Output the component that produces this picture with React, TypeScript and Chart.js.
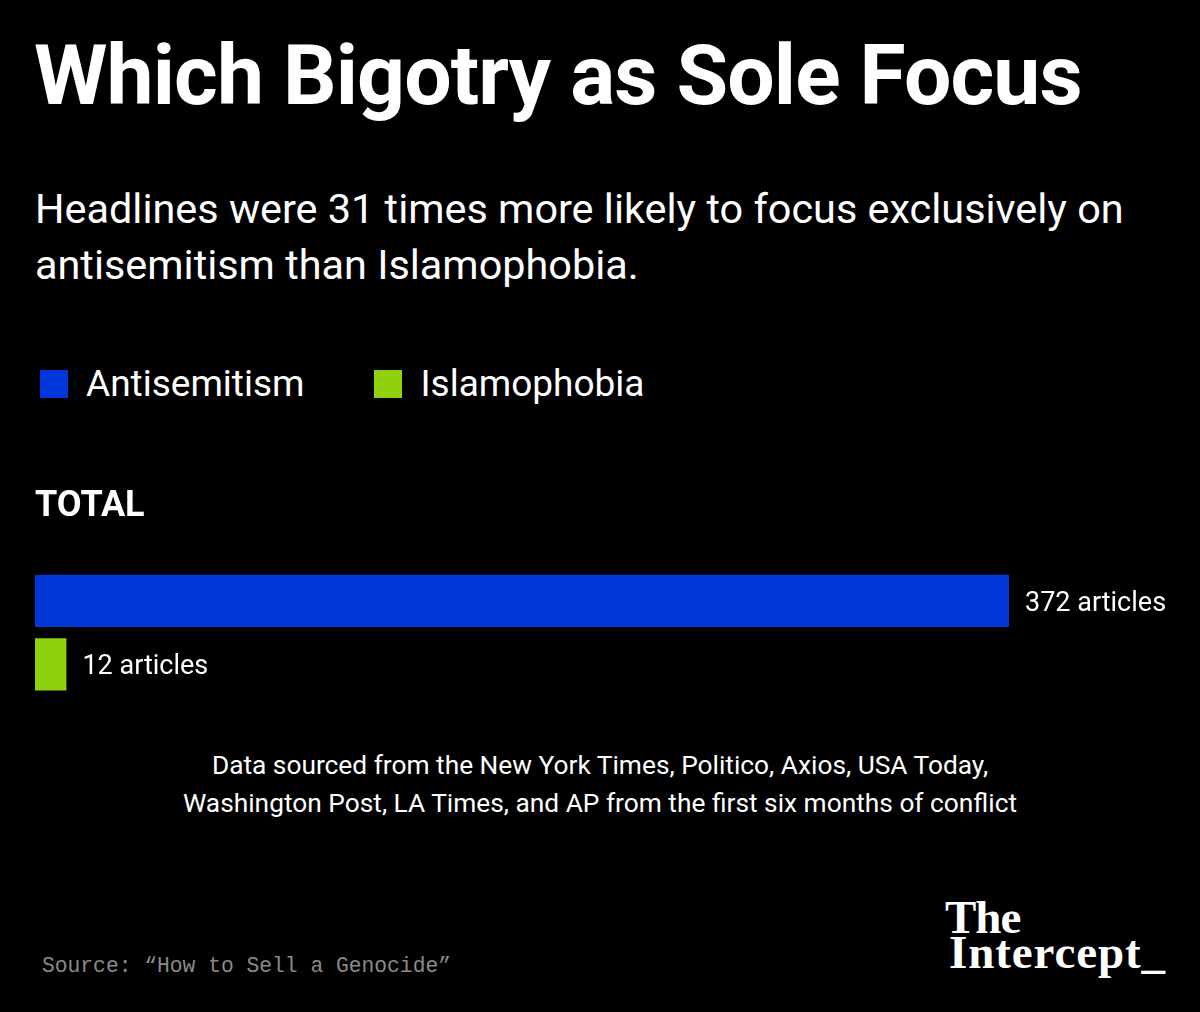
import React, { useEffect, useRef } from "react";
import { Chart, registerables } from "chart.js";

Chart.register(...registerables);

// ---- data ----
const categories = ["TOTAL"];
const seriesNames = ["Antisemitism", "Islamophobia"];
const antisemitismValues = [372];
const islamophobiaValues = [12];
const seriesColors = ["#0136D9", "#8ED10C"];
const valueSuffix = " articles";

const titleText = "Which Bigotry as Sole Focus";
const subtitleLines = [
  "Headlines were 31 times more likely to focus exclusively on",
  "antisemitism than Islamophobia.",
];
const noteLines = [
  "Data sourced from the New York Times, Politico, Axios, USA Today,",
  "Washington Post, LA Times, and AP from the first six months of conflict",
];
const sourceText = "Source: \u201cHow to Sell a Genocide\u201d";
const logoLines = ["The", "Intercept_"];

const SANS = "Roboto, 'Noto Sans', sans-serif";

const valueLabels = {
  id: "valueLabels",
  afterDatasetsDraw(chart: any) {
    const ctx = chart.ctx;
    ctx.save();
    ctx.font = `27px ${SANS}`;
    ctx.fillStyle = "#ffffff";
    ctx.textBaseline = "middle";
    ctx.textAlign = "left";
    chart.data.datasets.forEach((ds: any, i: number) => {
      chart.getDatasetMeta(i).data.forEach((el: any, j: number) => {
        ctx.fillText(`${ds.data[j]}${valueSuffix}`, el.x + 16, el.y + 3);
      });
    });
    ctx.restore();
  },
};

export default function App() {
  const canvasRef = useRef<HTMLCanvasElement | null>(null);

  useEffect(() => {
    document.body.style.margin = "0";
    document.body.style.background = "#000";
    const canvas = canvasRef.current;
    if (!canvas) return;
    const chart = new Chart(canvas, {
      type: "bar",
      data: {
        labels: categories,
        datasets: [
          {
            label: seriesNames[0],
            data: antisemitismValues,
            backgroundColor: seriesColors[0],
            borderWidth: 0,
            barPercentage: 0.825,
            categoryPercentage: 1,
          },
          {
            label: seriesNames[1],
            data: islamophobiaValues,
            backgroundColor: seriesColors[1],
            borderWidth: 0,
            barPercentage: 0.825,
            categoryPercentage: 1,
          },
        ],
      },
      options: {
        indexAxis: "y",
        responsive: false,
        animation: false,
        layout: { padding: { top: 0, left: 35, right: 191, bottom: 24 } },
        scales: {
          x: { display: false, min: 0, max: 372 },
          y: { display: false },
        },
        plugins: {
          legend: { display: false },
          tooltip: { enabled: false },
          title: {
            display: true,
            text: categories[0],
            align: "start",
            color: "#ffffff",
            font: { family: SANS, size: 36, weight: "bold" },
            padding: { top: 45, bottom: 41 },
          },
        },
      },
      plugins: [valueLabels],
    });
    return () => chart.destroy();
  }, []);

  const abs = (s: React.CSSProperties): React.CSSProperties => ({
    position: "absolute",
    margin: 0,
    whiteSpace: "nowrap",
    ...s,
  });

  return (
    <div
      style={{
        position: "relative",
        width: 1200,
        height: 1012,
        background: "#000",
        color: "#fff",
        overflow: "hidden",
        fontFamily: SANS,
      }}
    >
      <div
        style={abs({
          left: 34,
          top: 34,
          fontSize: 84,
          lineHeight: "84px",
          fontWeight: 700,
          letterSpacing: -0.9,
        })}
      >
        {titleText}
      </div>
      {subtitleLines.map((t, i) => (
        <div
          key={i}
          style={abs({
            left: 35,
            top: 181 + i * 56,
            fontSize: 41.4,
            lineHeight: "56px",
          })}
        >
          {t}
        </div>
      ))}
      <div style={abs({ left: 40, top: 364, display: "flex", alignItems: "center" })}>
        {seriesNames.map((n, i) => (
          <div key={n} style={{ display: "flex", alignItems: "center", marginRight: 70 }}>
            <span
              style={{
                display: "inline-block",
                width: 28,
                height: 28,
                background: seriesColors[i],
                marginRight: 18,
              }}
            />
            <span style={{ fontSize: 37, lineHeight: "40px" }}>{n}</span>
          </div>
        ))}
      </div>
      <canvas
        ref={canvasRef}
        width={1200}
        height={280}
        style={{ position: "absolute", left: 0, top: 440, width: 1200, height: 280 }}
      />
      {noteLines.map((t, i) => (
        <div
          key={i}
          style={abs({
            left: 0,
            width: 1200,
            textAlign: "center",
            top: 746 + i * 38,
            fontSize: 26.3,
            lineHeight: "38px",
          })}
        >
          {t}
        </div>
      ))}
      <div
        style={abs({
          left: 42,
          top: 956,
          fontFamily: "'Liberation Mono', 'DejaVu Sans Mono', monospace",
          fontSize: 21.3,
          lineHeight: "21px",
          color: "#8a8a8a",
        })}
      >
        {sourceText}
      </div>
      {logoLines.map((t, i) => (
        <div
          key={i}
          style={abs({
            left: i === 0 ? 945 : 949,
            top: 900 + i * 35,
            fontFamily: "'Liberation Serif', 'DejaVu Serif', serif",
            fontWeight: 700,
            fontSize: 47,
            lineHeight: "35px",
            letterSpacing: i === 0 ? -1 : 0.9,
          })}
        >
          {t}
        </div>
      ))}
    </div>
  );
}
